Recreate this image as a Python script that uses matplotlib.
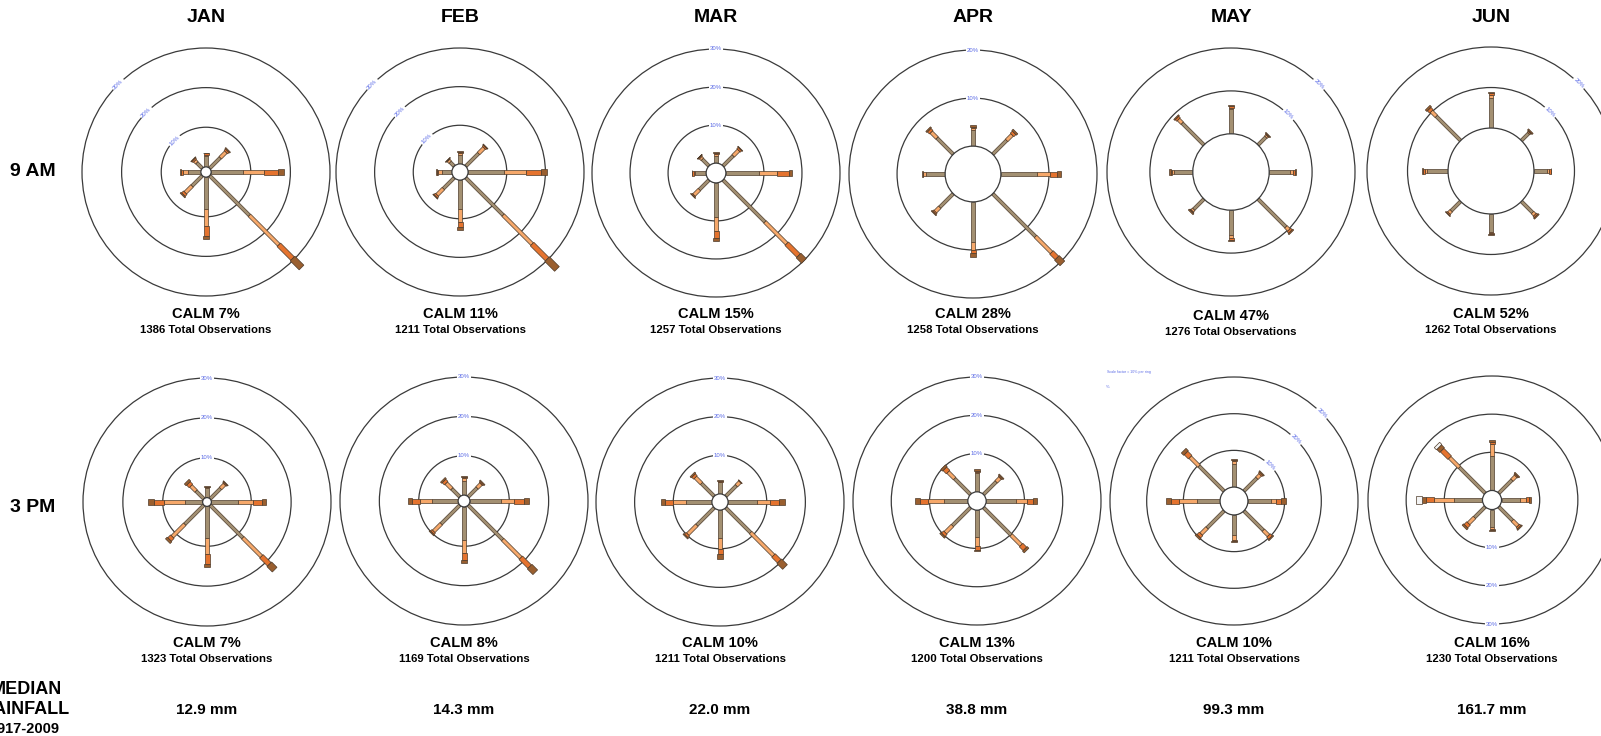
import numpy as np
import matplotlib
matplotlib.use('Agg')
import matplotlib.pyplot as plt
from matplotlib.patches import Polygon, Circle

plt.rcParams['font.family'] = ['Liberation Sans', 'DejaVu Sans']

# ---------------- data ----------------
months = ['JAN', 'FEB', 'MAR', 'APR', 'MAY', 'JUN']
times = ['9 AM', '3 PM']
directions = ['N', 'NE', 'E', 'SE', 'S', 'SW', 'W', 'NW']
speed_classes = ['>0-10 km/h', '>10-20 km/h', '>20-30 km/h', '>30-40 km/h', '>40 km/h']

calm_9am = [7, 11, 15, 28, 47, 52]
calm_3pm = [7, 8, 10, 13, 10, 16]
obs_9am = [1386, 1211, 1257, 1258, 1276, 1262]
obs_3pm = [1323, 1169, 1211, 1200, 1211, 1230]
rainfall_mm = [12.9, 14.3, 22.0, 38.8, 99.3, 161.7]

rings_9am = [[10, 20, 30], [10, 20, 30], [10, 20, 30], [10, 20], [10, 20], [10, 20]]
rings_3pm = [[10, 20, 30], [10, 20, 30], [10, 20, 30], [10, 20, 30], [10, 20, 30], [10, 20, 30]]
# radius of the calm disc, in % units
calm_disc_9am = [1.3, 2.1, 2.6, 5.8, 8.9, 10.6]
calm_disc_3pm = [1.1, 1.5, 2.1, 2.4, 3.8, 2.5]

# frequency (%) per direction (N, NE, E, SE, S, SW, W, NW) per speed class
jan_9am = [[2.7, 0.4, 0.3, 0.2, 0], [3.8, 2.0, 0.5, 0.3, 0], [8.0, 5.4, 3.4, 1.6, 0], [14.2, 10.5, 4.9, 3.2, 0],
           [8.0, 4.4, 2.5, 0.7, 0], [3.7, 2.4, 0.7, 0.3, 0], [3.2, 1.3, 0.6, 0.2, 0], [2.0, 0.7, 0.4, 0.2, 0]]
feb_9am = [[2.2, 0.6, 0.3, 0.2, 0], [4.7, 2.0, 0.4, 0.2, 0], [9.3, 5.6, 3.9, 1.7, 0], [13.7, 10.6, 5.5, 3.6, 0],
           [7.5, 3.4, 1.3, 0.7, 0], [4.0, 2.3, 0.5, 0.2, 0], [2.6, 0.9, 0.3, 0.2, 0], [1.5, 0.6, 0.2, 0.1, 0]]
mar_9am = [[2.0, 0.4, 0.2, 0.2, 0], [3.8, 2.0, 0.5, 0.2, 0], [8.8, 4.6, 3.1, 1.0, 0], [15.6, 8.1, 4.4, 2.0, 0],
           [9.0, 3.6, 1.8, 0.9, 0], [3.6, 2.0, 0.3, 0.1, 0], [2.8, 0.5, 0.3, 0.2, 0], [2.5, 0.6, 0.3, 0.1, 0]]
apr_9am = [[3.3, 0.5, 0.2, 0.3, 0], [4.1, 1.6, 0.6, 0.4, 0], [7.6, 2.6, 1.4, 1.0, 0], [12.6, 4.7, 1.6, 1.6, 0],
           [8.3, 1.7, 0.7, 0.7, 0], [4.0, 1.3, 0.3, 0.2, 0], [4.0, 0.5, 0.2, 0.2, 0], [4.8, 1.7, 0.6, 0.3, 0]]
may_9am = [[5.7, 0.4, 0.3, 0.3, 0], [2.6, 0.4, 0.2, 0.2, 0], [4.9, 0.6, 0.4, 0.3, 0], [9.2, 1.0, 0.5, 0.3, 0],
           [5.8, 0.6, 0.5, 0.3, 0], [3.4, 0.5, 0.2, 0.3, 0], [4.3, 0.6, 0.3, 0.3, 0], [7.2, 1.2, 0.5, 0.3, 0]]
jun_9am = [[7.4, 0.8, 0.5, 0.2, 0], [2.5, 0.3, 0.2, 0.3, 0], [3.3, 0.5, 0.3, 0.2, 0], [3.9, 0.8, 0.4, 0.3, 0],
           [4.5, 0.2, 0.2, 0.2, 0], [3.3, 0.8, 0.3, 0.1, 0], [5.3, 0.5, 0.4, 0.3, 0], [8.5, 1.7, 0.8, 0.5, 0]]
jan_3pm = [[2.4, 0.2, 0.1, 0.2, 0], [3.7, 1.4, 0.3, 0.2, 0], [6.8, 3.7, 2.2, 1.0, 0], [11.6, 6.6, 2.8, 1.9, 0],
           [7.9, 4.0, 2.5, 0.8, 0], [6.8, 4.4, 1.0, 0.6, 0], [4.5, 5.2, 2.4, 1.7, 0], [2.8, 1.8, 0.9, 0.6, 0]]
feb_3pm = [[3.5, 0.8, 0.3, 0.3, 0], [3.2, 1.4, 0.3, 0.3, 0], [7.8, 3.4, 2.5, 1.4, 0], [12.4, 6.5, 3.2, 2.0, 0],
           [8.3, 3.4, 1.7, 0.8, 0], [6.7, 2.7, 0.5, 0.3, 0], [6.7, 3.0, 2.1, 0.8, 0], [2.9, 2.0, 0.8, 0.4, 0]]
mar_3pm = [[3.0, 0.2, 0.1, 0.2, 0], [3.9, 1.3, 0.2, 0.0, 0], [7.5, 3.4, 2.4, 1.5, 0], [9.1, 8.4, 2.1, 2.1, 0],
           [7.2, 2.8, 1.3, 1.3, 0], [6.4, 3.3, 0.6, 0.3, 0], [6.6, 3.4, 2.2, 1.0, 0], [4.7, 2.2, 0.7, 0.4, 0]]
apr_3pm = [[5.0, 0.3, 0.2, 0.4, 0], [4.7, 1.4, 0.3, 0.3, 0], [7.8, 2.8, 1.6, 1.0, 0], [10.2, 3.7, 1.4, 0.6, 0],
           [7.1, 2.2, 1.0, 0.3, 0], [6.7, 2.6, 0.8, 0.4, 0], [6.2, 4.2, 2.2, 1.3, 0], [5.9, 2.4, 1.2, 0.6, 0]]
may_3pm = [[6.4, 0.6, 0.4, 0.2, 0], [5.0, 1.3, 0.4, 0.3, 0], [6.4, 1.2, 1.4, 1.3, 0], [7.5, 2.0, 0.8, 0.3, 0],
           [5.5, 1.2, 0.4, 0.2, 0], [6.6, 2.3, 0.9, 0.5, 0], [6.4, 4.7, 2.3, 1.4, 0], [9.7, 3.4, 1.6, 0.9, 0]]
jun_3pm = [[9.1, 3.0, 0.5, 0.6, 0], [4.9, 1.4, 0.3, 0.3, 0], [4.8, 1.6, 0.8, 0.4, 0], [5.1, 2.0, 0.5, 0.3, 0],
           [4.7, 0.4, 0.3, 0.2, 0], [4.0, 2.2, 1.0, 0.5, 0], [7.5, 5.2, 2.2, 1.0, 1.4], [9.6, 3.6, 2.8, 1.1, 0.8]]

roses_9am = [jan_9am, feb_9am, mar_9am, apr_9am, may_9am, jun_9am]
roses_3pm = [jan_3pm, feb_3pm, mar_3pm, apr_3pm, may_3pm, jun_3pm]

# ---------------- styles / layout ----------------
W, H = 1601, 736
fig = plt.figure(figsize=(W / 100, H / 100), dpi=100)
fig.patch.set_facecolor('white')

centers_9am = [(206, 172), (460, 172), (716, 173), (973, 174), (1231, 172), (1491, 171)]
centers_3pm = [(207, 502), (464, 501), (720, 502), (977, 501), (1234, 501), (1492, 500)]
label_angle_9am = [135, 135, 90, 90, 45, 45]
label_angle_3pm = [90, 90, 90, 90, 45, -90]

A = 140          # half size of each rose axes in px
R_OUT = 124      # outer ring radius in px
dir_angles = {'N': 90, 'NE': 45, 'E': 0, 'SE': -45, 'S': -90, 'SW': -135, 'W': 180, 'NW': 135}
seg_colors = ['#a39072', '#f6a86a', '#e5732e', '#9a5f2f', '#f4f4f4']
seg_widths = [3.2, 3.6, 5.0, 6.6, 7.6]   # px
seg_edge = '#4d3b2a'
ring_color = '#3a3a3a'
label_color = '#5a6ae6'


def px2fig(x, y):
    return x / W, 1 - y / H


def draw_rose(center, rings, calm_r, data, lab_ang):
    cx, cy = center
    ax = fig.add_axes([(cx - A) / W, 1 - (cy + A) / H, 2 * A / W, 2 * A / H])
    lim = (calm_r + max(rings)) * A / R_OUT
    ax.set_xlim(-lim, lim)
    ax.set_ylim(-lim, lim)
    ax.axis('off')
    ax.patch.set_alpha(0)
    dpp = lim / A  # data units per pixel
    for p in rings:
        ax.add_patch(Circle((0, 0), calm_r + p, fill=False, ec=ring_color, lw=0.9, zorder=1))
        th = np.deg2rad(lab_ang)
        rot = lab_ang - 90
        if rot < -90:
            rot += 180
        ax.text((calm_r + p) * np.cos(th), (calm_r + p) * np.sin(th), f'{p}%', fontsize=4.3,
                color=label_color, rotation=rot, ha='center', va='center', rotation_mode='anchor',
                bbox=dict(fc='white', ec='none', pad=0.8), zorder=2)
    for d, segs in zip(directions, data):
        th = np.deg2rad(dir_angles[d])
        u = np.array([np.cos(th), np.sin(th)])
        n = np.array([-u[1], u[0]])
        r0 = calm_r
        for k, L in enumerate(segs):
            if L <= 0:
                continue
            r1 = r0 + L
            hw = seg_widths[k] / 2 * dpp
            pts = [r0 * u + hw * n, r1 * u + hw * n, r1 * u - hw * n, r0 * u - hw * n]
            ax.add_patch(Polygon(pts, closed=True, fc=seg_colors[k], ec=seg_edge, lw=0.5,
                                 zorder=3 + k, clip_on=False))
            r0 = r1
    ax.add_patch(Circle((0, 0), calm_r, fc='white', ec=ring_color, lw=0.9, zorder=9))
    return ax


for i in range(6):
    draw_rose(centers_9am[i], rings_9am[i], calm_disc_9am[i], roses_9am[i], label_angle_9am[i])
    draw_rose(centers_3pm[i], rings_3pm[i], calm_disc_3pm[i], roses_3pm[i], label_angle_3pm[i])

# headers
for i, m in enumerate(months):
    fig.text(*px2fig(centers_9am[i][0], 17), m, ha='center', va='center', fontsize=14, fontweight='bold')
fig.text(*px2fig(33, 171), times[0], ha='center', va='center', fontsize=14, fontweight='bold')
fig.text(*px2fig(33, 507), times[1], ha='center', va='center', fontsize=14, fontweight='bold')

# calm / observation captions
for i in range(6):
    x1 = centers_9am[i][0]
    dy = 2 if i == 4 else 0
    fig.text(*px2fig(x1, 314.5 + dy), f'CALM {calm_9am[i]}%', ha='center', va='center',
             fontsize=10.5, fontweight='bold')
    fig.text(*px2fig(x1, 330 + dy), f'{obs_9am[i]} Total Observations', ha='center', va='center',
             fontsize=8.2, fontweight='bold')
    x2 = centers_3pm[i][0]
    fig.text(*px2fig(x2, 643), f'CALM {calm_3pm[i]}%', ha='center', va='center',
             fontsize=10.5, fontweight='bold')
    fig.text(*px2fig(x2, 658.5), f'{obs_3pm[i]} Total Observations', ha='center', va='center',
             fontsize=8.2, fontweight='bold')
    fig.text(*px2fig(x2, 710), f'{rainfall_mm[i]:.1f} mm', ha='center', va='center',
             fontsize=11, fontweight='bold')

# median rainfall row label (partly cut at left edge, as in the original)
fig.text(*px2fig(26, 690), 'MEDIAN', ha='center', va='center', fontsize=13, fontweight='bold')
fig.text(*px2fig(25, 710), 'RAINFALL', ha='center', va='center', fontsize=13, fontweight='bold')
fig.text(*px2fig(24, 729), '1917-2009', ha='center', va='center', fontsize=10.5, fontweight='bold')

# stray tiny scale text
fig.text(*px2fig(1107, 372), 'Scale factor = 10% per ring', ha='left', va='center', fontsize=2.6,
         color=label_color)
fig.text(*px2fig(1108, 387), '%', ha='center', va='center', fontsize=3, color=label_color)

fig.savefig('out.png', dpi=100, facecolor='white')
